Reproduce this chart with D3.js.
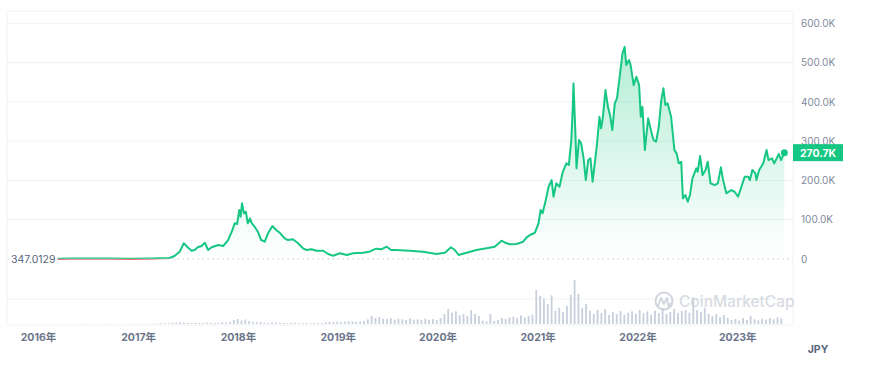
<!DOCTYPE html>
<html>
<head>
<meta charset="utf-8">
<script src="https://cdn.jsdelivr.net/npm/d3@7"></script>
<style>
  body { margin: 0; background: #fff; font-family: Inter, "Noto Sans CJK JP", sans-serif; }
</style>
</head>
<body>
<svg id="chart" width="870" height="375"></svg>
<script>
// price history (JPY)
const priceDates = [
  "2016-03-13", "2016-04-26", "2016-07-08", "2016-09-20", "2016-12-02", "2017-02-14", "2017-03-20", "2017-04-26",
  "2017-05-14", "2017-06-02", "2017-06-17", "2017-07-01", "2017-07-16", "2017-07-27", "2017-08-07", "2017-08-21",
  "2017-09-02", "2017-09-14", "2017-09-27", "2017-10-21", "2017-11-08", "2017-11-26", "2017-12-12", "2017-12-20",
  "2017-12-29", "2018-01-06", "2018-01-11", "2018-01-16", "2018-01-23", "2018-01-30", "2018-02-06", "2018-02-14",
  "2018-02-21", "2018-03-03", "2018-03-15", "2018-03-27", "2018-04-09", "2018-04-21", "2018-05-07", "2018-05-21",
  "2018-06-05", "2018-06-21", "2018-07-03", "2018-07-21", "2018-08-09", "2018-08-27", "2018-09-09", "2018-09-27",
  "2018-10-15", "2018-11-09", "2018-11-27", "2018-12-15", "2019-01-09", "2019-02-03", "2019-02-27", "2019-04-03",
  "2019-04-27", "2019-05-21", "2019-06-09", "2019-06-29", "2019-07-15", "2019-08-03", "2019-09-21", "2019-11-09",
  "2019-12-28", "2020-01-28", "2020-02-19", "2020-03-04", "2020-03-18", "2020-04-16", "2020-05-22", "2020-06-28",
  "2020-07-28", "2020-08-22", "2020-09-04", "2020-09-22", "2020-10-16", "2020-11-09", "2020-11-22", "2020-12-04",
  "2020-12-22", "2021-01-04", "2021-01-12", "2021-01-19", "2021-01-28", "2021-02-10", "2021-02-21", "2021-02-28",
  "2021-03-10", "2021-03-22", "2021-04-03", "2021-04-16", "2021-04-25", "2021-05-04", "2021-05-09", "2021-05-12",
  "2021-05-19", "2021-05-23", "2021-06-01", "2021-06-09", "2021-06-18", "2021-06-26", "2021-07-05", "2021-07-13",
  "2021-07-21", "2021-08-05", "2021-08-15", "2021-08-21", "2021-08-27", "2021-09-06", "2021-09-15", "2021-09-24",
  "2021-10-01", "2021-10-10", "2021-10-18", "2021-10-28", "2021-11-07", "2021-11-15", "2021-11-21", "2021-12-01",
  "2021-12-07", "2021-12-18", "2021-12-28", "2022-01-07", "2022-01-13", "2022-01-19", "2022-01-28", "2022-02-09",
  "2022-02-25", "2022-03-01", "2022-03-10", "2022-03-20", "2022-03-29", "2022-04-06", "2022-04-13", "2022-04-21",
  "2022-05-04", "2022-05-16", "2022-05-24", "2022-06-01", "2022-06-10", "2022-06-16", "2022-06-25", "2022-07-04",
  "2022-07-12", "2022-07-21", "2022-08-04", "2022-08-09", "2022-08-18", "2022-08-27", "2022-09-07", "2022-09-15",
  "2022-09-25", "2022-10-10", "2022-10-22", "2022-11-02", "2022-11-10", "2022-11-22", "2022-12-10", "2022-12-22",
  "2023-01-04", "2023-01-16", "2023-01-28", "2023-02-10", "2023-02-16", "2023-02-25", "2023-03-08", "2023-03-12",
  "2023-03-22", "2023-04-06", "2023-04-18", "2023-04-25", "2023-05-08", "2023-05-16", "2023-06-02", "2023-06-10",
  "2023-06-22"
];
const priceValues = [
  347, 1000, 1300, 1300, 900, 1400, 1800, 2500,
  7600, 18600, 40000, 29800, 21100, 22900, 29800, 33100,
  41500, 22900, 29800, 35600, 33100, 48300, 73800, 90800,
  89000, 124700, 107600, 141700, 116300, 120400, 90800, 103600,
  90800, 82200, 69500, 48300, 44000, 65400, 84000, 73800,
  65400, 52700, 48300, 50100, 40000, 27200, 22900, 24700,
  21100, 21100, 12700, 8400, 14500, 10200, 14500, 16000,
  18600, 26200, 24700, 31300, 22900, 22900, 21100, 18600,
  12700, 16000, 29800, 22900, 10200, 16000, 22900, 27200,
  31300, 46600, 41500, 37400, 38200, 44000, 55200, 61100,
  66900, 90800, 124700, 116300, 141700, 184000, 201000, 158500,
  192600, 184000, 222000, 243500, 239200, 302800, 379000, 447000,
  319800, 230800, 302800, 294400, 256200, 201000, 251900, 256200,
  196700, 285800, 362000, 332600, 358000, 430000, 387500, 362000,
  328000, 396000, 409000, 464000, 523000, 540000, 493600, 506400,
  493600, 442700, 463900, 442700, 362000, 387500, 277400, 358000,
  311200, 302800, 298500, 336600, 404600, 434400, 391900, 396200,
  362000, 277400, 269000, 243500, 247600, 154500, 162800, 145800,
  162800, 205300, 230800, 222100, 262100, 213700, 226500, 247600,
  192600, 188300, 192600, 233300, 201000, 167200, 175600, 171200,
  158500, 184000, 209400, 209400, 201000, 226500, 218100, 201000,
  226500, 243500, 277400, 251900, 256200, 243500, 267200, 251900,
  270700
];

// traded volume (billion JPY), one bar every two weeks from volumeStart
const volumeStart = "2016-03-13";
const volumeStepDays = 14;
const volumeValues = [
  15, 20, 10, 25, 30, 15, 20, 40, 25, 20, 15, 30, 20, 25, 35, 20, 15, 25, 30, 20, 40, 35, 30, 45, 60, 50,
  80, 120, 150, 100, 180, 220, 260, 200, 160, 140, 180, 150, 120, 200, 170, 150, 190, 260, 240, 320,
  600, 750, 520, 680, 450,
  320, 260, 300, 220, 180, 240, 200, 150, 170, 130, 160, 190, 140, 120, 150, 110, 130, 160, 140,
  260, 320, 280, 380, 300, 350, 420, 380, 330, 400, 450,
  700, 1200, 900, 1050, 800,
  750, 900, 650, 800, 700, 600, 850, 650, 700, 600, 800, 650, 720, 600, 900,
  1500, 2250, 1700, 1900, 1300, 1500, 1200, 2100, 1500, 1200,
  500, 400, 1500, 450, 600, 900, 750, 1000,
  1100, 900, 1300, 1000, 1200, 1400,
  5100, 4200, 3800, 3000, 4300, 2000, 2400, 1800, 2700, 4400, 6600, 4500,
  2400, 3000, 2000, 1500, 2100, 1650, 2250,
  1350, 1800, 1500, 1950, 1400, 1700, 1900, 1500, 2100, 1600, 1900,
  1400, 2000, 1600, 2400, 1500, 1800, 2250, 1650, 1950, 2100, 1700, 4000,
  2100, 1800, 2400, 1500, 1200, 1500, 1050, 1350, 900,
  600, 750, 500, 900, 600, 1200, 700, 550, 800, 650, 900, 700, 1000, 850
];

const yearTicks = [2016, 2017, 2018, 2019, 2020, 2021, 2022, 2023];
const priceTicks = [0, 100000, 200000, 300000, 400000, 500000, 600000];
const startLabel = "347.0129";
const lastLabel = "270.7K";
const currencyLabel = "JPY";
const watermark = "CoinMarketCap";

const green = "#16c784";
const red = "#ea3943";
const gridColor = "#eff2f5";

const frame = { left: 7, top: 11, right: 793, bottom: 325 };

const parse = d3.timeParse("%Y-%m-%d");
const data = priceDates.map((d, i) => ({ date: parse(d), value: priceValues[i] }));
const vStart = parse(volumeStart);
const volData = volumeValues.map((v, i) => ({ date: d3.timeDay.offset(vStart, i * volumeStepDays), value: v }));

const svg = d3.select("#chart");

const x = d3.scaleTime()
  .domain([new Date(2016, 0, 1), new Date(2023, 0, 1)])
  .range([38, 737.3]);
const y = d3.scaleLinear().domain([0, 600000]).range([259, 23.3]);
const vy = d3.scaleLinear().domain([0, 6600]).range([324, 280]);

const baseY = y(priceValues[0]);

// frame and grid
svg.append("rect")
  .attr("x", frame.left).attr("y", frame.top)
  .attr("width", frame.right - frame.left).attr("height", frame.bottom - frame.top)
  .attr("fill", "none").attr("stroke", gridColor);

svg.append("g").selectAll("line")
  .data(priceTicks.filter(t => t > 0))
  .join("line")
  .attr("x1", frame.left).attr("x2", frame.right)
  .attr("y1", d => y(d)).attr("y2", d => y(d))
  .attr("stroke", gridColor);

svg.append("line")
  .attr("x1", frame.left).attr("x2", frame.right)
  .attr("y1", 299).attr("y2", 299)
  .attr("stroke", gridColor);

// volume bars
svg.append("g").selectAll("rect")
  .data(volData)
  .join("rect")
  .attr("x", d => x(d.date) - 0.9)
  .attr("width", 1.8)
  .attr("y", d => vy(d.value))
  .attr("height", d => vy(0) - vy(d.value))
  .attr("fill", "#c8cfdd");

// watermark
const wm = svg.append("g").attr("opacity", 0.75);
wm.append("circle").attr("cx", 664).attr("cy", 301).attr("r", 8.5)
  .attr("fill", "none").attr("stroke", "#c3c8d3").attr("stroke-width", 2);
wm.append("path")
  .attr("d", "M658.5,305 L661,298 L664,304 L667,298 L668.5,306 L671,303")
  .attr("fill", "none").attr("stroke", "#c3c8d3").attr("stroke-width", 1.8)
  .attr("stroke-linejoin", "round").attr("stroke-linecap", "round");
wm.append("text").attr("x", 679).attr("y", 306.5)
  .attr("font-size", 15.5).attr("fill", "#ccd1da").attr("font-weight", 500)
  .text(watermark);

// dotted base line at the first price
svg.append("line")
  .attr("x1", x(data[0].date)).attr("x2", frame.right)
  .attr("y1", baseY).attr("y2", baseY)
  .attr("stroke", "#a6acbc").attr("stroke-dasharray", "1,4");

// area gradient
const defs = svg.append("defs");
const grad = defs.append("linearGradient").attr("id", "fillGrad")
  .attr("x1", 0).attr("x2", 0).attr("y1", 0).attr("y2", 1);
grad.append("stop").attr("offset", "0%").attr("stop-color", green).attr("stop-opacity", 0.32);
grad.append("stop").attr("offset", "100%").attr("stop-color", green).attr("stop-opacity", 0.0);

defs.append("clipPath").attr("id", "above").append("rect")
  .attr("x", 0).attr("y", 0).attr("width", 870).attr("height", baseY);
defs.append("clipPath").attr("id", "below").append("rect")
  .attr("x", 0).attr("y", baseY).attr("width", 870).attr("height", 375 - baseY);

const area = d3.area().x(d => x(d.date)).y0(baseY).y1(d => y(d.value));
const line = d3.line().x(d => x(d.date)).y(d => y(d.value));

svg.append("path").datum(data)
  .attr("d", area)
  .attr("fill", "url(#fillGrad)")
  .attr("clip-path", "url(#above)");

svg.append("path").datum(data)
  .attr("d", line)
  .attr("fill", "none").attr("stroke", red).attr("stroke-width", 2)
  .attr("clip-path", "url(#below)");

svg.append("path").datum(data)
  .attr("d", line)
  .attr("fill", "none").attr("stroke", green).attr("stroke-width", 2)
  .attr("stroke-linejoin", "round")
  .attr("clip-path", "url(#above)");

const last = data[data.length - 1];
svg.append("circle")
  .attr("cx", x(last.date)).attr("cy", y(last.value)).attr("r", 3.5)
  .attr("fill", green);

// y axis on the right
const yAxis = svg.append("g")
  .attr("transform", `translate(${frame.right},0)`)
  .call(d3.axisRight(y).tickValues(priceTicks).tickSize(0).tickPadding(8)
    .tickFormat(d => d === 0 ? "0" : (d / 1000).toFixed(1) + "K"));
yAxis.select(".domain").remove();
yAxis.selectAll("text")
  .attr("font-family", "Inter, sans-serif").attr("font-size", 10).attr("fill", "#808a9d");

// last price tag
svg.append("rect")
  .attr("x", frame.right).attr("y", y(last.value) - 8.5)
  .attr("width", 50).attr("height", 17)
  .attr("fill", green);
svg.append("text")
  .attr("x", frame.right + 25).attr("y", y(last.value) + 4)
  .attr("text-anchor", "middle")
  .attr("font-size", 10.5).attr("font-weight", 700).attr("fill", "#fff")
  .text(lastLabel);

// first price label
svg.append("text")
  .attr("x", 11).attr("y", baseY + 4)
  .attr("font-size", 10.5).attr("fill", "#58667e")
  .text(startLabel);

// x axis
const xAxis = svg.append("g")
  .attr("transform", `translate(0,${frame.bottom})`)
  .call(d3.axisBottom(x)
    .tickValues(yearTicks.map(yr => new Date(yr, 0, 1)))
    .tickSize(0).tickPadding(9)
    .tickFormat(d => d.getFullYear() + "年"));
xAxis.select(".domain").remove();
xAxis.selectAll("text")
  .attr("font-family", "Inter, 'Noto Sans CJK JP', sans-serif")
  .attr("font-size", 10.5).attr("font-weight", 700).attr("fill", "#6b758a");

svg.append("text")
  .attr("x", 818).attr("y", 353)
  .attr("text-anchor", "middle")
  .attr("font-size", 10.5).attr("font-weight", 700).attr("fill", "#58667e")
  .text(currencyLabel);
</script>
</body>
</html>
